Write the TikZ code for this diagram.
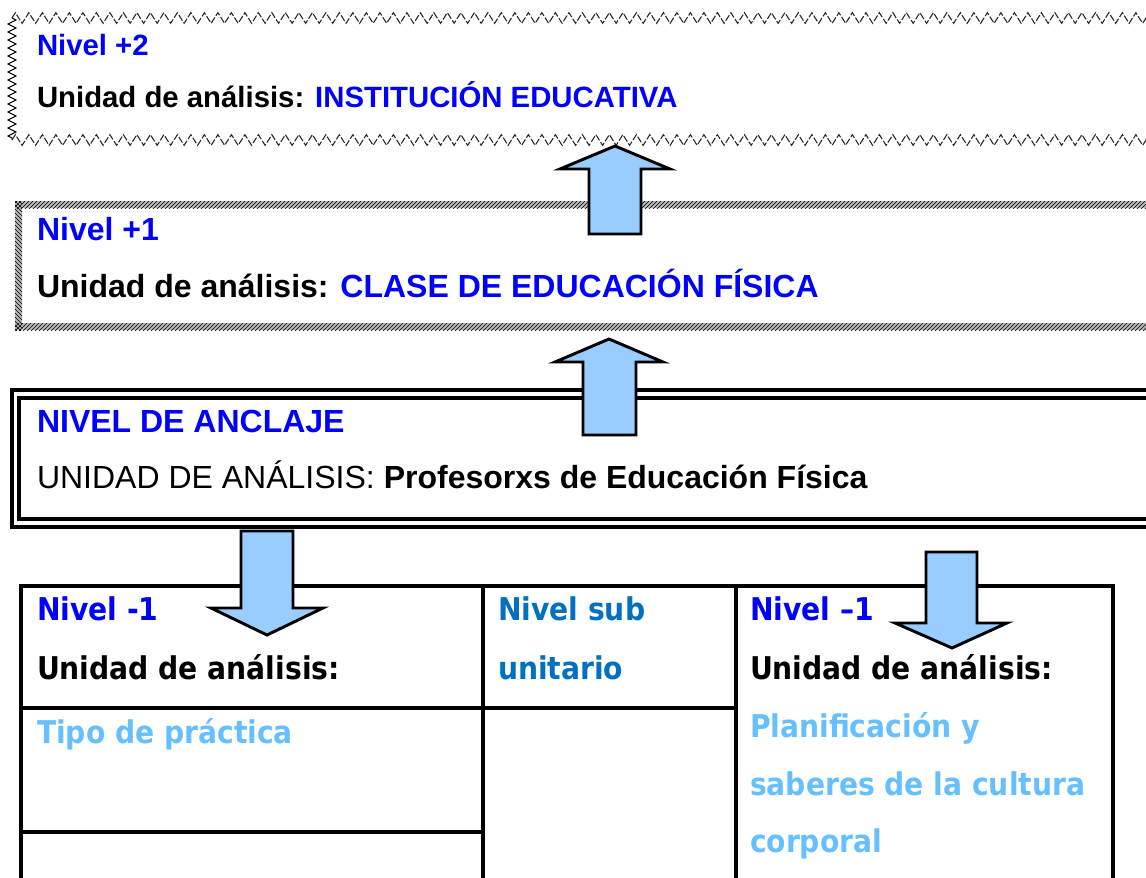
\documentclass[tikz,border=0pt]{standalone}
\usepackage{fontspec}
\setmainfont{Liberation Sans}
\newfontfamily\tah{DejaVu Sans Condensed}[BoldFont={DejaVu Sans Condensed Bold}]
\usetikzlibrary{decorations.pathmorphing,patterns}
\definecolor{pureblue}{RGB}{0,0,255}
\definecolor{midblue}{RGB}{0,112,192}
\definecolor{lightblue}{RGB}{102,191,255}
\definecolor{arrowfill}{RGB}{153,204,255}
\begin{document}
\begin{tikzpicture}[x=0.75pt,y=-0.75pt,
  lbl/.style={anchor=base west, inner sep=0pt, outer sep=0pt},
  fa/.style={lbl, font=\fontsize{22}{26}\selectfont\bfseries},
  fb/.style={lbl, font=\fontsize{24}{28}\selectfont\bfseries},
  fc/.style={lbl, font=\fontsize{24}{28}\selectfont},
  ft/.style={lbl, font=\tah\fontsize{23.5}{27}\selectfont\bfseries},
  blockarrow/.style={draw=black, fill=arrowfill, line width=2.2pt, line join=miter},
  zigtop/.style={draw=gray!30!black, line width=0.8pt, dash pattern=on 5pt off 1.5pt, decorate, decoration={zigzag, segment length=13.5*0.75pt, amplitude=4pt}},
  zigleft/.style={draw=black, line width=0.7pt, decorate, decoration={zigzag, segment length=8*0.75pt, amplitude=3pt}},
  tabline/.style={line width=2.4pt, line cap=rect},
  dblline/.style={line width=3pt}
]
\useasboundingbox (0,0) rectangle (1146,878);

% ---------- Box Nivel +2 (zigzag border)
\coordinate (z1a) at (12,18);
\coordinate (z1b) at (1160,18);
\coordinate (z2a) at (12,140);
\coordinate (z2b) at (1160,140);
\draw[zigtop] (z1a) -- (z1b);
\draw[zigtop] (z2a) -- (z2b);
\draw[zigleft] (z1a) -- (z2a);
\node[fa, text=pureblue] (n2) at (37,55) {Nivel +2};
\node[fa] (u2) at (37,107) {Unidad de análisis: \textcolor{pureblue}{INSTITUCIÓN EDUCATIVA}};

% ---------- Box Nivel +1 (hatched border)
\fill[gray!55] (15,201) rectangle (1160,208) (15,323) rectangle (1160,330) (15,201) rectangle (22,330);
\fill[pattern=north east lines, pattern color=black] (15,201) rectangle (1160,208);
\fill[pattern=north east lines, pattern color=black] (15,323) rectangle (1160,330);
\fill[pattern=north west lines, pattern color=black] (15,201) rectangle (22,330);
\node[fb, text=pureblue] (n1) at (37,240) {Nivel +1};
\node[fb] (u1) at (37,297) {Unidad de análisis: \textcolor{pureblue}{CLASE DE EDUCACIÓN FÍSICA}};

% arrow up 1
\draw[blockarrow] (589,234) -- (589,169) -- (560,169) -- (615,146) -- (670,169) -- (641,169) -- (641,234) -- cycle;

% ---------- Box Nivel de anclaje (double border)
\draw[dblline] (1160,390) -- (12,390) -- (12,527) -- (1160,527);
\draw[dblline] (1160,398) -- (19,398) -- (19,519) -- (1160,519);
\node[fb, text=pureblue] (n0) at (37,432) {NIVEL DE ANCLAJE};
\node[fc] (u0) at (37,488) {UNIDAD DE ANÁLISIS: \textbf{Profesorxs de Educación Física}};

% arrow up 2
\draw[blockarrow] (583,435) -- (583,362) -- (555,362) -- (609,339) -- (663,362) -- (636,362) -- (636,435) -- cycle;

% ---------- Table
\draw[tabline] (21,895) -- (21,586) -- (483,586) -- (483,895);
\draw[tabline] (21,708) -- (483,708);
\draw[tabline] (21,832) -- (483,832);
\draw[tabline] (483,586) -- (736,586);
\draw[tabline] (483,708) -- (736,708);
\draw[tabline] (736,895) -- (736,586) -- (1113,586) -- (1113,895);

\node[ft, text=pureblue] (tl1) at (37,620) {Nivel -1};
\node[ft] (tl2) at (37,679) {Unidad de análisis:};
\node[ft, text=lightblue] (tl3) at (37,743) {Tipo de práctica};

\node[ft, text=midblue] (tm1) at (498,620) {Nivel sub};
\node[ft, text=midblue] (tm2) at (498,679) {unitario};

\node[ft, text=pureblue] (tr1) at (750,620) {Nivel –1};
\node[ft] (tr2) at (750,679) {Unidad de análisis:};
\node[ft, text=lightblue] (tr3) at (750,737) {Planificación y};
\node[ft, text=lightblue] (tr4) at (750,795) {saberes de la cultura};
\node[ft, text=lightblue] (tr5) at (750,852) {corporal};

% arrows down
\draw[blockarrow] (241,531) -- (293,531) -- (293,608) -- (323,608) -- (267,635) -- (211,608) -- (241,608) -- cycle;
\draw[blockarrow] (926,552) -- (977,552) -- (977,623) -- (1007,623) -- (952,648) -- (895,623) -- (926,623) -- cycle;
\end{tikzpicture}
\end{document}
